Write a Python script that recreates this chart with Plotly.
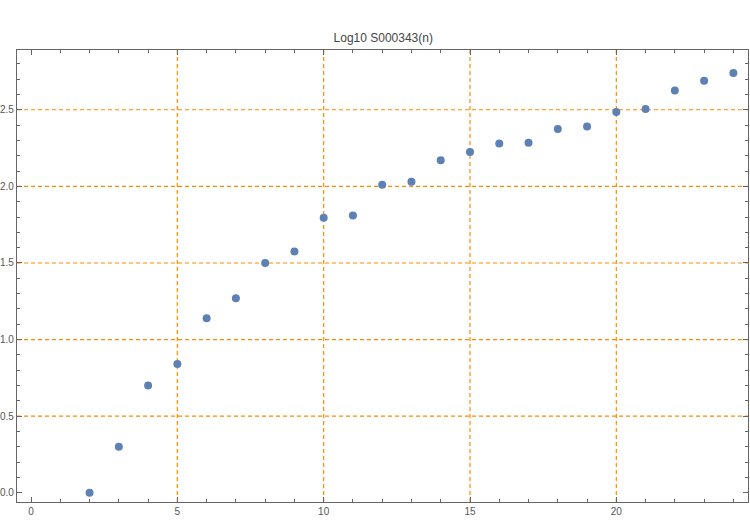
import plotly.graph_objects as go

n_values = list(range(2, 25))
log_values = [0.0, 0.30, 0.70, 0.84, 1.14, 1.27, 1.50, 1.575, 1.795, 1.81, 2.01, 2.03,
              2.17, 2.225, 2.28, 2.285, 2.375, 2.39, 2.485, 2.505, 2.625, 2.69, 2.74]

x_ticks = [0, 5, 10, 15, 20]
y_ticks = [0.0, 0.5, 1.0, 1.5, 2.0, 2.5]
y_tick_text = ["0.0", "0.5", "1.0", "1.5", "2.0", "2.5"]
grid_x = [5, 10, 15, 20]
grid_y = [0.5, 1.0, 1.5, 2.0, 2.5]

x_range = [-0.48, 24.5]
y_range = [-0.06, 2.89]

fig = go.Figure()
fig.add_trace(go.Scatter(
    x=n_values, y=log_values, mode="markers",
    marker=dict(color="#5E81B5", size=8),
    showlegend=False,
))

grid_style = dict(color="#FF8C00", width=1.2, dash="4px,3px")
for gx in grid_x:
    fig.add_shape(type="line", xref="x", yref="paper", x0=gx, x1=gx, y0=0, y1=1,
                  line=grid_style, layer="below")
for gy in grid_y:
    fig.add_shape(type="line", xref="paper", yref="y", x0=0, x1=1, y0=gy, y1=gy,
                  line=grid_style, layer="below")

axis_common = dict(
    showgrid=False, zeroline=False, showline=True, linecolor="#666666", linewidth=1.2,
    mirror="ticks", ticks="inside", ticklen=5, tickcolor="#666666", tickwidth=1,
    automargin=False,
    tickfont=dict(family="Liberation Sans, Arial, sans-serif", size=10, color="#555555"),
)

fig.update_xaxes(range=x_range, tickvals=x_ticks, ticktext=[str(v) for v in x_ticks],
                 minor=dict(dtick=1, tick0=0, ticks="inside", ticklen=3, tickcolor="#666666", showgrid=False),
                 **axis_common)
fig.update_yaxes(range=y_range, tickvals=y_ticks, ticktext=y_tick_text,
                 minor=dict(dtick=0.1, tick0=0, ticks="inside", ticklen=3, tickcolor="#666666", showgrid=False),
                 **axis_common)

fig.update_layout(
    width=750, height=520,
    margin=dict(l=17, r=2, t=50, b=18, autoexpand=False),
    paper_bgcolor="white", plot_bgcolor="white",
    title=dict(text="Log10 S000343(n)", x=0.511, xanchor="center", y=0.927, yanchor="middle",
               font=dict(family="Liberation Sans, Arial, sans-serif", size=12, color="#444444")),
)

fig.write_html("out.html", config={"displayModeBar": False},
               post_script="document.body.style.margin='0px';")
